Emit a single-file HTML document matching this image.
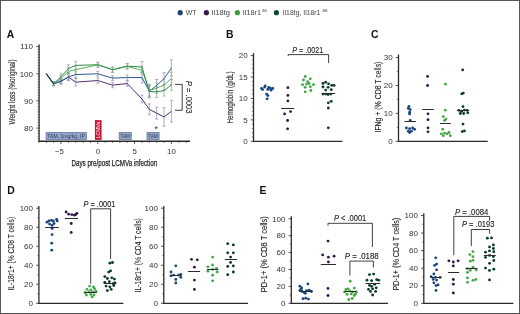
<!DOCTYPE html>
<html><head><meta charset="utf-8"><style>
html,body{margin:0;padding:0;background:#fff;}
body{width:520px;height:314px;overflow:hidden;}
svg{display:block;font-family:"Liberation Sans", sans-serif;will-change:transform;}
</style></head><body>
<svg width="520" height="314" viewBox="0 0 520 314">
<rect x="0" y="0" width="520" height="314" fill="#fff"/>
<circle cx="180.2" cy="12.7" r="2.6" fill="#1a3f6e"/>
<circle cx="206.4" cy="12.7" r="2.6" fill="#3a1a4c"/>
<circle cx="237.4" cy="12.7" r="2.6" fill="#3a9a3a"/>
<circle cx="276.4" cy="12.7" r="2.6" fill="#0d4a30"/>
<text x="185.80" y="15.40" font-size="7.4" text-anchor="start" fill="#444" textLength="10.70" lengthAdjust="spacingAndGlyphs" >WT</text>
<text x="211.60" y="15.40" font-size="7.4" text-anchor="start" fill="#444" textLength="18.30" lengthAdjust="spacingAndGlyphs" >Il18tg</text>
<text x="242.80" y="15.40" font-size="7.4" text-anchor="start" fill="#444" textLength="18.20" lengthAdjust="spacingAndGlyphs" >Il18r1</text>
<text x="262.30" y="11.90" font-size="4.4" text-anchor="start" fill="#444" textLength="4.60" lengthAdjust="spacingAndGlyphs" >ΔB</text>
<text x="282.70" y="15.40" font-size="7.4" text-anchor="start" fill="#444" textLength="37.70" lengthAdjust="spacingAndGlyphs" >Il18tg, Il18r1</text>
<text x="322.40" y="11.90" font-size="4.4" text-anchor="start" fill="#444" textLength="5.00" lengthAdjust="spacingAndGlyphs" >ΔB</text>
<text x="6.70" y="38.10" font-size="10.4" text-anchor="start" fill="#111" font-weight="bold" >A</text>
<text x="225.90" y="38.10" font-size="10.4" text-anchor="start" fill="#111" font-weight="bold" >B</text>
<text x="371.00" y="38.10" font-size="10.4" text-anchor="start" fill="#111" font-weight="bold" >C</text>
<text x="7.20" y="194.40" font-size="10.4" text-anchor="start" fill="#111" font-weight="bold" >D</text>
<text x="259.60" y="194.40" font-size="10.4" text-anchor="start" fill="#111" font-weight="bold" >E</text>
<line x1="39.10" y1="44.50" x2="39.10" y2="141.90" stroke="#2b2b2b" stroke-width="1.3"/>
<line x1="38.50" y1="141.25" x2="190.00" y2="141.25" stroke="#2b2b2b" stroke-width="1.3"/>
<line x1="37.60" y1="138.96" x2="39.10" y2="138.96" stroke="#2b2b2b" stroke-width="0.6"/>
<line x1="37.60" y1="136.24" x2="39.10" y2="136.24" stroke="#2b2b2b" stroke-width="0.6"/>
<line x1="37.60" y1="133.52" x2="39.10" y2="133.52" stroke="#2b2b2b" stroke-width="0.6"/>
<line x1="37.60" y1="130.81" x2="39.10" y2="130.81" stroke="#2b2b2b" stroke-width="0.6"/>
<line x1="36.30" y1="128.09" x2="39.10" y2="128.09" stroke="#2b2b2b" stroke-width="0.8"/>
<line x1="37.60" y1="125.37" x2="39.10" y2="125.37" stroke="#2b2b2b" stroke-width="0.6"/>
<line x1="37.60" y1="122.66" x2="39.10" y2="122.66" stroke="#2b2b2b" stroke-width="0.6"/>
<line x1="37.60" y1="119.94" x2="39.10" y2="119.94" stroke="#2b2b2b" stroke-width="0.6"/>
<line x1="37.60" y1="117.22" x2="39.10" y2="117.22" stroke="#2b2b2b" stroke-width="0.6"/>
<line x1="37.60" y1="114.50" x2="39.10" y2="114.50" stroke="#2b2b2b" stroke-width="0.6"/>
<line x1="37.60" y1="111.79" x2="39.10" y2="111.79" stroke="#2b2b2b" stroke-width="0.6"/>
<line x1="37.60" y1="109.07" x2="39.10" y2="109.07" stroke="#2b2b2b" stroke-width="0.6"/>
<line x1="37.60" y1="106.35" x2="39.10" y2="106.35" stroke="#2b2b2b" stroke-width="0.6"/>
<line x1="37.60" y1="103.64" x2="39.10" y2="103.64" stroke="#2b2b2b" stroke-width="0.6"/>
<line x1="36.30" y1="100.92" x2="39.10" y2="100.92" stroke="#2b2b2b" stroke-width="0.8"/>
<line x1="37.60" y1="98.20" x2="39.10" y2="98.20" stroke="#2b2b2b" stroke-width="0.6"/>
<line x1="37.60" y1="95.49" x2="39.10" y2="95.49" stroke="#2b2b2b" stroke-width="0.6"/>
<line x1="37.60" y1="92.77" x2="39.10" y2="92.77" stroke="#2b2b2b" stroke-width="0.6"/>
<line x1="37.60" y1="90.05" x2="39.10" y2="90.05" stroke="#2b2b2b" stroke-width="0.6"/>
<line x1="37.60" y1="87.34" x2="39.10" y2="87.34" stroke="#2b2b2b" stroke-width="0.6"/>
<line x1="37.60" y1="84.62" x2="39.10" y2="84.62" stroke="#2b2b2b" stroke-width="0.6"/>
<line x1="37.60" y1="81.90" x2="39.10" y2="81.90" stroke="#2b2b2b" stroke-width="0.6"/>
<line x1="37.60" y1="79.18" x2="39.10" y2="79.18" stroke="#2b2b2b" stroke-width="0.6"/>
<line x1="37.60" y1="76.47" x2="39.10" y2="76.47" stroke="#2b2b2b" stroke-width="0.6"/>
<line x1="36.30" y1="73.75" x2="39.10" y2="73.75" stroke="#2b2b2b" stroke-width="0.8"/>
<line x1="37.60" y1="71.03" x2="39.10" y2="71.03" stroke="#2b2b2b" stroke-width="0.6"/>
<line x1="37.60" y1="68.32" x2="39.10" y2="68.32" stroke="#2b2b2b" stroke-width="0.6"/>
<line x1="37.60" y1="65.60" x2="39.10" y2="65.60" stroke="#2b2b2b" stroke-width="0.6"/>
<line x1="37.60" y1="62.88" x2="39.10" y2="62.88" stroke="#2b2b2b" stroke-width="0.6"/>
<line x1="37.60" y1="60.16" x2="39.10" y2="60.16" stroke="#2b2b2b" stroke-width="0.6"/>
<line x1="37.60" y1="57.45" x2="39.10" y2="57.45" stroke="#2b2b2b" stroke-width="0.6"/>
<line x1="37.60" y1="54.73" x2="39.10" y2="54.73" stroke="#2b2b2b" stroke-width="0.6"/>
<line x1="37.60" y1="52.01" x2="39.10" y2="52.01" stroke="#2b2b2b" stroke-width="0.6"/>
<line x1="37.60" y1="49.30" x2="39.10" y2="49.30" stroke="#2b2b2b" stroke-width="0.6"/>
<line x1="36.30" y1="46.58" x2="39.10" y2="46.58" stroke="#2b2b2b" stroke-width="0.8"/>
<text x="33.00" y="49.33" font-size="8.0" text-anchor="end" fill="#333" >110</text>
<text x="33.00" y="76.50" font-size="8.0" text-anchor="end" fill="#333" >100</text>
<text x="33.00" y="103.67" font-size="8.0" text-anchor="end" fill="#333" >90</text>
<text x="33.00" y="130.84" font-size="8.0" text-anchor="end" fill="#333" >80</text>
<line x1="38.92" y1="141.20" x2="38.92" y2="143.00" stroke="#2b2b2b" stroke-width="0.6"/>
<line x1="46.28" y1="141.20" x2="46.28" y2="143.00" stroke="#2b2b2b" stroke-width="0.6"/>
<line x1="53.64" y1="141.20" x2="53.64" y2="143.00" stroke="#2b2b2b" stroke-width="0.6"/>
<line x1="61.00" y1="141.20" x2="61.00" y2="144.00" stroke="#2b2b2b" stroke-width="0.8"/>
<line x1="68.36" y1="141.20" x2="68.36" y2="143.00" stroke="#2b2b2b" stroke-width="0.6"/>
<line x1="75.72" y1="141.20" x2="75.72" y2="143.00" stroke="#2b2b2b" stroke-width="0.6"/>
<line x1="83.08" y1="141.20" x2="83.08" y2="143.00" stroke="#2b2b2b" stroke-width="0.6"/>
<line x1="90.44" y1="141.20" x2="90.44" y2="143.00" stroke="#2b2b2b" stroke-width="0.6"/>
<line x1="97.80" y1="141.20" x2="97.80" y2="144.00" stroke="#2b2b2b" stroke-width="0.8"/>
<line x1="105.16" y1="141.20" x2="105.16" y2="143.00" stroke="#2b2b2b" stroke-width="0.6"/>
<line x1="112.52" y1="141.20" x2="112.52" y2="143.00" stroke="#2b2b2b" stroke-width="0.6"/>
<line x1="119.88" y1="141.20" x2="119.88" y2="143.00" stroke="#2b2b2b" stroke-width="0.6"/>
<line x1="127.24" y1="141.20" x2="127.24" y2="143.00" stroke="#2b2b2b" stroke-width="0.6"/>
<line x1="134.60" y1="141.20" x2="134.60" y2="144.00" stroke="#2b2b2b" stroke-width="0.8"/>
<line x1="141.96" y1="141.20" x2="141.96" y2="143.00" stroke="#2b2b2b" stroke-width="0.6"/>
<line x1="149.32" y1="141.20" x2="149.32" y2="143.00" stroke="#2b2b2b" stroke-width="0.6"/>
<line x1="156.68" y1="141.20" x2="156.68" y2="143.00" stroke="#2b2b2b" stroke-width="0.6"/>
<line x1="164.04" y1="141.20" x2="164.04" y2="143.00" stroke="#2b2b2b" stroke-width="0.6"/>
<line x1="171.40" y1="141.20" x2="171.40" y2="144.00" stroke="#2b2b2b" stroke-width="0.8"/>
<line x1="178.76" y1="141.20" x2="178.76" y2="143.00" stroke="#2b2b2b" stroke-width="0.6"/>
<line x1="186.12" y1="141.20" x2="186.12" y2="143.00" stroke="#2b2b2b" stroke-width="0.6"/>
<text x="59.40" y="153.80" font-size="7.8" text-anchor="middle" fill="#333" >−5</text>
<text x="97.80" y="153.80" font-size="7.8" text-anchor="middle" fill="#333" >0</text>
<text x="134.60" y="153.80" font-size="7.8" text-anchor="middle" fill="#333" >5</text>
<text x="171.40" y="153.80" font-size="7.8" text-anchor="middle" fill="#333" >10</text>
<text x="71.40" y="166.20" font-size="9.6" text-anchor="start" fill="#222" textLength="85.80" lengthAdjust="spacingAndGlyphs" stroke="#222" stroke-width="0.25">Days pre/post LCMVa infection</text>
<text x="15.00" y="124.40" font-size="8.8" text-anchor="start" fill="#222" textLength="65.00" lengthAdjust="spacingAndGlyphs" transform="rotate(-90 15.00 124.40)" stroke="#222" stroke-width="0.1">Weight loss (%original)</text>
<g stroke="#8c809c" stroke-width="0.65"><line x1="53.64" y1="81.68" x2="53.64" y2="85.92"/><line x1="52.14" y1="81.68" x2="55.14" y2="81.68"/><line x1="52.14" y1="85.92" x2="55.14" y2="85.92"/></g>
<g stroke="#8c809c" stroke-width="0.65"><line x1="61.00" y1="78.71" x2="61.00" y2="84.01"/><line x1="59.50" y1="78.71" x2="62.50" y2="78.71"/><line x1="59.50" y1="84.01" x2="62.50" y2="84.01"/></g>
<g stroke="#8c809c" stroke-width="0.65"><line x1="68.36" y1="73.48" x2="68.36" y2="80.54"/><line x1="66.86" y1="73.48" x2="69.86" y2="73.48"/><line x1="66.86" y1="80.54" x2="69.86" y2="80.54"/></g>
<g stroke="#8c809c" stroke-width="0.65"><line x1="75.72" y1="78.29" x2="75.72" y2="86.06"/><line x1="74.22" y1="78.29" x2="77.22" y2="78.29"/><line x1="74.22" y1="86.06" x2="77.22" y2="86.06"/></g>
<g stroke="#8c809c" stroke-width="0.65"><line x1="97.80" y1="77.89" x2="97.80" y2="83.19"/><line x1="96.30" y1="77.89" x2="99.30" y2="77.89"/><line x1="96.30" y1="83.19" x2="99.30" y2="83.19"/></g>
<g stroke="#8c809c" stroke-width="0.65"><line x1="112.52" y1="82.51" x2="112.52" y2="87.81"/><line x1="111.02" y1="82.51" x2="114.02" y2="82.51"/><line x1="111.02" y1="87.81" x2="114.02" y2="87.81"/></g>
<g stroke="#8c809c" stroke-width="0.65"><line x1="127.24" y1="80.88" x2="127.24" y2="86.18"/><line x1="125.74" y1="80.88" x2="128.74" y2="80.88"/><line x1="125.74" y1="86.18" x2="128.74" y2="86.18"/></g>
<g stroke="#8c809c" stroke-width="0.65"><line x1="141.96" y1="95.21" x2="141.96" y2="102.82"/><line x1="140.46" y1="95.21" x2="143.46" y2="95.21"/><line x1="140.46" y1="102.82" x2="143.46" y2="102.82"/></g>
<g stroke="#8c809c" stroke-width="0.65"><line x1="149.32" y1="103.91" x2="149.32" y2="114.78"/><line x1="147.82" y1="103.91" x2="150.82" y2="103.91"/><line x1="147.82" y1="114.78" x2="150.82" y2="114.78"/></g>
<g stroke="#8c809c" stroke-width="0.65"><line x1="156.68" y1="107.17" x2="156.68" y2="119.12"/><line x1="155.18" y1="107.17" x2="158.18" y2="107.17"/><line x1="155.18" y1="119.12" x2="158.18" y2="119.12"/></g>
<g stroke="#8c809c" stroke-width="0.65"><line x1="164.04" y1="107.71" x2="164.04" y2="126.19"/><line x1="162.54" y1="107.71" x2="165.54" y2="107.71"/><line x1="162.54" y1="126.19" x2="165.54" y2="126.19"/></g>
<g stroke="#8c809c" stroke-width="0.65"><line x1="171.40" y1="100.38" x2="171.40" y2="122.11"/><line x1="169.90" y1="100.38" x2="172.90" y2="100.38"/><line x1="169.90" y1="122.11" x2="172.90" y2="122.11"/></g>
<g stroke="#7d8aa4" stroke-width="0.65"><line x1="53.64" y1="82.39" x2="53.64" y2="85.22"/><line x1="52.14" y1="82.39" x2="55.14" y2="82.39"/><line x1="52.14" y1="85.22" x2="55.14" y2="85.22"/></g>
<g stroke="#7d8aa4" stroke-width="0.65"><line x1="61.00" y1="78.44" x2="61.00" y2="83.73"/><line x1="59.50" y1="78.44" x2="62.50" y2="78.44"/><line x1="59.50" y1="83.73" x2="62.50" y2="83.73"/></g>
<g stroke="#7d8aa4" stroke-width="0.65"><line x1="68.36" y1="74.18" x2="68.36" y2="79.84"/><line x1="66.86" y1="74.18" x2="69.86" y2="74.18"/><line x1="66.86" y1="79.84" x2="69.86" y2="79.84"/></g>
<g stroke="#7d8aa4" stroke-width="0.65"><line x1="75.72" y1="71.03" x2="75.72" y2="78.10"/><line x1="74.22" y1="71.03" x2="77.22" y2="71.03"/><line x1="74.22" y1="78.10" x2="77.22" y2="78.10"/></g>
<g stroke="#7d8aa4" stroke-width="0.65"><line x1="97.80" y1="71.45" x2="97.80" y2="76.05"/><line x1="96.30" y1="71.45" x2="99.30" y2="71.45"/><line x1="96.30" y1="76.05" x2="99.30" y2="76.05"/></g>
<g stroke="#7d8aa4" stroke-width="0.65"><line x1="112.52" y1="75.80" x2="112.52" y2="80.39"/><line x1="111.02" y1="75.80" x2="114.02" y2="75.80"/><line x1="111.02" y1="80.39" x2="114.02" y2="80.39"/></g>
<g stroke="#7d8aa4" stroke-width="0.65"><line x1="127.24" y1="74.90" x2="127.24" y2="80.20"/><line x1="125.74" y1="74.90" x2="128.74" y2="74.90"/><line x1="125.74" y1="80.20" x2="128.74" y2="80.20"/></g>
<g stroke="#7d8aa4" stroke-width="0.65"><line x1="141.96" y1="72.12" x2="141.96" y2="82.99"/><line x1="140.46" y1="72.12" x2="143.46" y2="72.12"/><line x1="140.46" y1="82.99" x2="143.46" y2="82.99"/></g>
<g stroke="#7d8aa4" stroke-width="0.65"><line x1="149.32" y1="84.35" x2="149.32" y2="97.93"/><line x1="147.82" y1="84.35" x2="150.82" y2="84.35"/><line x1="147.82" y1="97.93" x2="150.82" y2="97.93"/></g>
<g stroke="#7d8aa4" stroke-width="0.65"><line x1="156.68" y1="79.46" x2="156.68" y2="91.41"/><line x1="155.18" y1="79.46" x2="158.18" y2="79.46"/><line x1="155.18" y1="91.41" x2="158.18" y2="91.41"/></g>
<g stroke="#7d8aa4" stroke-width="0.65"><line x1="164.04" y1="72.66" x2="164.04" y2="84.62"/><line x1="162.54" y1="72.66" x2="165.54" y2="72.66"/><line x1="162.54" y1="84.62" x2="165.54" y2="84.62"/></g>
<g stroke="#7d8aa4" stroke-width="0.65"><line x1="171.40" y1="59.89" x2="171.40" y2="76.20"/><line x1="169.90" y1="59.89" x2="172.90" y2="59.89"/><line x1="169.90" y1="76.20" x2="172.90" y2="76.20"/></g>
<g stroke="#8fb08f" stroke-width="0.65"><line x1="53.64" y1="82.04" x2="53.64" y2="85.57"/><line x1="52.14" y1="82.04" x2="55.14" y2="82.04"/><line x1="52.14" y1="85.57" x2="55.14" y2="85.57"/></g>
<g stroke="#8fb08f" stroke-width="0.65"><line x1="61.00" y1="75.46" x2="61.00" y2="81.82"/><line x1="59.50" y1="75.46" x2="62.50" y2="75.46"/><line x1="59.50" y1="81.82" x2="62.50" y2="81.82"/></g>
<g stroke="#8fb08f" stroke-width="0.65"><line x1="68.36" y1="67.77" x2="68.36" y2="74.84"/><line x1="66.86" y1="67.77" x2="69.86" y2="67.77"/><line x1="66.86" y1="74.84" x2="69.86" y2="74.84"/></g>
<g stroke="#8fb08f" stroke-width="0.65"><line x1="75.72" y1="66.14" x2="75.72" y2="73.21"/><line x1="74.22" y1="66.14" x2="77.22" y2="66.14"/><line x1="74.22" y1="73.21" x2="77.22" y2="73.21"/></g>
<g stroke="#8fb08f" stroke-width="0.65"><line x1="97.80" y1="62.13" x2="97.80" y2="67.43"/><line x1="96.30" y1="62.13" x2="99.30" y2="62.13"/><line x1="96.30" y1="67.43" x2="99.30" y2="67.43"/></g>
<g stroke="#8fb08f" stroke-width="0.65"><line x1="112.52" y1="67.03" x2="112.52" y2="72.32"/><line x1="111.02" y1="67.03" x2="114.02" y2="67.03"/><line x1="111.02" y1="72.32" x2="114.02" y2="72.32"/></g>
<g stroke="#8fb08f" stroke-width="0.65"><line x1="127.24" y1="63.77" x2="127.24" y2="69.06"/><line x1="125.74" y1="63.77" x2="128.74" y2="63.77"/><line x1="125.74" y1="69.06" x2="128.74" y2="69.06"/></g>
<g stroke="#8fb08f" stroke-width="0.65"><line x1="141.96" y1="66.14" x2="141.96" y2="74.29"/><line x1="140.46" y1="66.14" x2="143.46" y2="66.14"/><line x1="140.46" y1="74.29" x2="143.46" y2="74.29"/></g>
<g stroke="#8fb08f" stroke-width="0.65"><line x1="149.32" y1="85.16" x2="149.32" y2="96.03"/><line x1="147.82" y1="85.16" x2="150.82" y2="85.16"/><line x1="147.82" y1="96.03" x2="150.82" y2="96.03"/></g>
<g stroke="#8fb08f" stroke-width="0.65"><line x1="156.68" y1="82.72" x2="156.68" y2="93.58"/><line x1="155.18" y1="82.72" x2="158.18" y2="82.72"/><line x1="155.18" y1="93.58" x2="158.18" y2="93.58"/></g>
<g stroke="#8fb08f" stroke-width="0.65"><line x1="164.04" y1="79.46" x2="164.04" y2="90.32"/><line x1="162.54" y1="79.46" x2="165.54" y2="79.46"/><line x1="162.54" y1="90.32" x2="165.54" y2="90.32"/></g>
<g stroke="#8fb08f" stroke-width="0.65"><line x1="171.40" y1="72.66" x2="171.40" y2="84.62"/><line x1="169.90" y1="72.66" x2="172.90" y2="72.66"/><line x1="169.90" y1="84.62" x2="172.90" y2="84.62"/></g>
<g stroke="#7f9a8a" stroke-width="0.65"><line x1="53.64" y1="82.04" x2="53.64" y2="85.57"/><line x1="52.14" y1="82.04" x2="55.14" y2="82.04"/><line x1="52.14" y1="85.57" x2="55.14" y2="85.57"/></g>
<g stroke="#7f9a8a" stroke-width="0.65"><line x1="61.00" y1="73.21" x2="61.00" y2="80.27"/><line x1="59.50" y1="73.21" x2="62.50" y2="73.21"/><line x1="59.50" y1="80.27" x2="62.50" y2="80.27"/></g>
<g stroke="#7f9a8a" stroke-width="0.65"><line x1="68.36" y1="64.70" x2="68.36" y2="72.47"/><line x1="66.86" y1="64.70" x2="69.86" y2="64.70"/><line x1="66.86" y1="72.47" x2="69.86" y2="72.47"/></g>
<g stroke="#7f9a8a" stroke-width="0.65"><line x1="75.72" y1="61.27" x2="75.72" y2="69.39"/><line x1="74.22" y1="61.27" x2="77.22" y2="61.27"/><line x1="74.22" y1="69.39" x2="77.22" y2="69.39"/></g>
<g stroke="#7f9a8a" stroke-width="0.65"><line x1="97.80" y1="62.66" x2="97.80" y2="66.90"/><line x1="96.30" y1="62.66" x2="99.30" y2="62.66"/><line x1="96.30" y1="66.90" x2="99.30" y2="66.90"/></g>
<g stroke="#7f9a8a" stroke-width="0.65"><line x1="112.52" y1="67.03" x2="112.52" y2="72.32"/><line x1="111.02" y1="67.03" x2="114.02" y2="67.03"/><line x1="111.02" y1="72.32" x2="114.02" y2="72.32"/></g>
<g stroke="#7f9a8a" stroke-width="0.65"><line x1="127.24" y1="63.32" x2="127.24" y2="68.97"/><line x1="125.74" y1="63.32" x2="128.74" y2="63.32"/><line x1="125.74" y1="68.97" x2="128.74" y2="68.97"/></g>
<g stroke="#7f9a8a" stroke-width="0.65"><line x1="141.96" y1="61.52" x2="141.96" y2="72.39"/><line x1="140.46" y1="61.52" x2="143.46" y2="61.52"/><line x1="140.46" y1="72.39" x2="143.46" y2="72.39"/></g>
<g stroke="#7f9a8a" stroke-width="0.65"><line x1="149.32" y1="85.98" x2="149.32" y2="96.84"/><line x1="147.82" y1="85.98" x2="150.82" y2="85.98"/><line x1="147.82" y1="96.84" x2="150.82" y2="96.84"/></g>
<g stroke="#7f9a8a" stroke-width="0.65"><line x1="156.68" y1="86.52" x2="156.68" y2="97.39"/><line x1="155.18" y1="86.52" x2="158.18" y2="86.52"/><line x1="155.18" y1="97.39" x2="158.18" y2="97.39"/></g>
<g stroke="#7f9a8a" stroke-width="0.65"><line x1="164.04" y1="85.16" x2="164.04" y2="96.03"/><line x1="162.54" y1="85.16" x2="165.54" y2="85.16"/><line x1="162.54" y1="96.03" x2="165.54" y2="96.03"/></g>
<g stroke="#7f9a8a" stroke-width="0.65"><line x1="171.40" y1="79.46" x2="171.40" y2="90.32"/><line x1="169.90" y1="79.46" x2="172.90" y2="79.46"/><line x1="169.90" y1="90.32" x2="172.90" y2="90.32"/></g>
<polyline points="46.28,73.75 53.64,83.80 61.00,81.36 68.36,77.01 75.72,82.17 97.80,80.54 112.52,85.16 127.24,83.53 141.96,99.02 149.32,109.34 156.68,113.15 164.04,116.95 171.40,111.24" fill="none" stroke="#4e3270" stroke-width="1.0" stroke-linejoin="round"/>
<polyline points="46.28,73.75 53.64,83.80 61.00,81.09 68.36,77.01 75.72,74.57 97.80,73.75 112.52,78.10 127.24,77.55 141.96,77.55 149.32,91.14 156.68,85.43 164.04,78.64 171.40,68.04" fill="none" stroke="#2f5a96" stroke-width="1.0" stroke-linejoin="round"/>
<polyline points="46.28,73.75 53.64,83.80 61.00,78.64 68.36,71.30 75.72,69.67 97.80,64.78 112.52,69.67 127.24,66.41 141.96,70.22 149.32,90.60 156.68,88.15 164.04,84.89 171.40,78.64" fill="none" stroke="#5cb45c" stroke-width="1.0" stroke-linejoin="round"/>
<polyline points="46.28,73.75 53.64,83.80 61.00,76.74 68.36,68.59 75.72,65.33 97.80,64.78 112.52,69.67 127.24,66.14 141.96,66.96 149.32,91.41 156.68,91.95 164.04,90.60 171.40,84.89" fill="none" stroke="#2f8a52" stroke-width="1.0" stroke-linejoin="round"/>
<polyline points="46.28,73.75 53.64,83.80" fill="none" stroke="#1d3550" stroke-width="1.1"/>
<rect x="46.10" y="132.6" width="40.30" height="6.8" fill="#94a6c6" stroke="#5f749c" stroke-width="0.8"/>
<text x="47.30" y="138.10" font-size="5.8" text-anchor="start" fill="#2c3a5a" textLength="37.50" lengthAdjust="spacingAndGlyphs" >TAM, 1mg/kg, IP</text>
<rect x="119.20" y="132.6" width="12.10" height="6.8" fill="#94a6c6" stroke="#5f749c" stroke-width="0.8"/>
<text x="120.40" y="138.10" font-size="5.8" text-anchor="start" fill="#2c3a5a" textLength="9.50" lengthAdjust="spacingAndGlyphs" >TAM</text>
<rect x="147.00" y="132.6" width="12.10" height="6.8" fill="#94a6c6" stroke="#5f749c" stroke-width="0.8"/>
<text x="148.20" y="138.10" font-size="5.8" text-anchor="start" fill="#2c3a5a" textLength="9.50" lengthAdjust="spacingAndGlyphs" >TAM</text>
<rect x="94.9" y="120.1" width="6.7" height="19.8" fill="#c8163a"/>
<text x="100.30" y="138.50" font-size="5.2" text-anchor="start" fill="#fff" textLength="17.00" lengthAdjust="spacingAndGlyphs" transform="rotate(-90 100.30 138.50)" >LCMVa</text>
<text x="156.20" y="131.60" font-size="9" text-anchor="middle" fill="#333" >*</text>
<path d="M175.0,84.4 H182.2 V110.3 H175.0" fill="none" stroke="#2b2b2b" stroke-width="0.9"/>
<text x="185.80" y="80.80" font-size="8.2" text-anchor="start" fill="#222" textLength="32.80" lengthAdjust="spacingAndGlyphs" transform="rotate(90 185.80 80.80)" stroke="#222" stroke-width="0.12"><tspan font-style="italic">P</tspan> = .0003</text>
<line x1="253.50" y1="53.10" x2="253.50" y2="141.90" stroke="#2b2b2b" stroke-width="1.3"/>
<line x1="252.90" y1="141.30" x2="342.40" y2="141.30" stroke="#2b2b2b" stroke-width="1.3"/>
<line x1="250.70" y1="141.30" x2="253.50" y2="141.30" stroke="#2b2b2b" stroke-width="0.8"/>
<text x="247.60" y="144.05" font-size="8.0" text-anchor="end" fill="#333" >0</text>
<line x1="250.70" y1="119.88" x2="253.50" y2="119.88" stroke="#2b2b2b" stroke-width="0.8"/>
<text x="247.60" y="122.63" font-size="8.0" text-anchor="end" fill="#333" >5</text>
<line x1="250.70" y1="98.45" x2="253.50" y2="98.45" stroke="#2b2b2b" stroke-width="0.8"/>
<text x="247.60" y="101.20" font-size="8.0" text-anchor="end" fill="#333" >10</text>
<line x1="250.70" y1="77.03" x2="253.50" y2="77.03" stroke="#2b2b2b" stroke-width="0.8"/>
<text x="247.60" y="79.78" font-size="8.0" text-anchor="end" fill="#333" >15</text>
<line x1="250.70" y1="55.60" x2="253.50" y2="55.60" stroke="#2b2b2b" stroke-width="0.8"/>
<text x="247.60" y="58.35" font-size="8.0" text-anchor="end" fill="#333" >20</text>
<line x1="251.90" y1="137.02" x2="253.50" y2="137.02" stroke="#2b2b2b" stroke-width="0.6"/>
<line x1="251.90" y1="132.73" x2="253.50" y2="132.73" stroke="#2b2b2b" stroke-width="0.6"/>
<line x1="251.90" y1="128.45" x2="253.50" y2="128.45" stroke="#2b2b2b" stroke-width="0.6"/>
<line x1="251.90" y1="124.16" x2="253.50" y2="124.16" stroke="#2b2b2b" stroke-width="0.6"/>
<line x1="251.90" y1="115.59" x2="253.50" y2="115.59" stroke="#2b2b2b" stroke-width="0.6"/>
<line x1="251.90" y1="111.31" x2="253.50" y2="111.31" stroke="#2b2b2b" stroke-width="0.6"/>
<line x1="251.90" y1="107.02" x2="253.50" y2="107.02" stroke="#2b2b2b" stroke-width="0.6"/>
<line x1="251.90" y1="102.74" x2="253.50" y2="102.74" stroke="#2b2b2b" stroke-width="0.6"/>
<line x1="251.90" y1="94.17" x2="253.50" y2="94.17" stroke="#2b2b2b" stroke-width="0.6"/>
<line x1="251.90" y1="89.88" x2="253.50" y2="89.88" stroke="#2b2b2b" stroke-width="0.6"/>
<line x1="251.90" y1="85.60" x2="253.50" y2="85.60" stroke="#2b2b2b" stroke-width="0.6"/>
<line x1="251.90" y1="81.31" x2="253.50" y2="81.31" stroke="#2b2b2b" stroke-width="0.6"/>
<line x1="251.90" y1="72.74" x2="253.50" y2="72.74" stroke="#2b2b2b" stroke-width="0.6"/>
<line x1="251.90" y1="68.46" x2="253.50" y2="68.46" stroke="#2b2b2b" stroke-width="0.6"/>
<line x1="251.90" y1="64.17" x2="253.50" y2="64.17" stroke="#2b2b2b" stroke-width="0.6"/>
<line x1="251.90" y1="59.89" x2="253.50" y2="59.89" stroke="#2b2b2b" stroke-width="0.6"/>
<text x="233.40" y="123.60" font-size="8.8" text-anchor="start" fill="#222" textLength="52.30" lengthAdjust="spacingAndGlyphs" transform="rotate(-90 233.40 123.60)" stroke="#222" stroke-width="0.1">Hemoglobin (g/dL)</text>
<circle cx="262.60" cy="89.60" r="1.42" fill="#16457c"/>
<circle cx="264.60" cy="87.10" r="1.42" fill="#16457c"/>
<circle cx="267.70" cy="89.40" r="1.42" fill="#16457c"/>
<circle cx="270.30" cy="88.10" r="1.42" fill="#16457c"/>
<circle cx="272.80" cy="88.40" r="1.42" fill="#16457c"/>
<circle cx="265.20" cy="85.80" r="1.42" fill="#16457c"/>
<circle cx="268.70" cy="87.50" r="1.42" fill="#16457c"/>
<circle cx="261.50" cy="88.30" r="1.42" fill="#16457c"/>
<circle cx="266.50" cy="94.10" r="1.42" fill="#16457c"/>
<circle cx="267.90" cy="95.60" r="1.42" fill="#16457c"/>
<circle cx="267.10" cy="98.80" r="1.42" fill="#16457c"/>
<circle cx="271.00" cy="90.20" r="1.42" fill="#16457c"/>
<circle cx="287.90" cy="87.70" r="1.42" fill="#33164a"/>
<circle cx="287.90" cy="95.40" r="1.42" fill="#33164a"/>
<circle cx="287.90" cy="100.90" r="1.42" fill="#33164a"/>
<circle cx="290.60" cy="111.60" r="1.42" fill="#33164a"/>
<circle cx="284.60" cy="113.90" r="1.42" fill="#33164a"/>
<circle cx="287.60" cy="120.50" r="1.42" fill="#33164a"/>
<circle cx="287.60" cy="128.80" r="1.42" fill="#33164a"/>
<line x1="281.20" y1="108.50" x2="294.20" y2="108.50" stroke="#2b2b2b" stroke-width="1.0"/>
<circle cx="305.20" cy="76.50" r="1.42" fill="#42a843"/>
<circle cx="310.30" cy="78.80" r="1.42" fill="#42a843"/>
<circle cx="307.70" cy="81.60" r="1.42" fill="#42a843"/>
<circle cx="302.60" cy="84.70" r="1.42" fill="#42a843"/>
<circle cx="306.50" cy="84.10" r="1.42" fill="#42a843"/>
<circle cx="313.50" cy="84.70" r="1.42" fill="#42a843"/>
<circle cx="305.20" cy="87.30" r="1.42" fill="#42a843"/>
<circle cx="310.30" cy="86.70" r="1.42" fill="#42a843"/>
<circle cx="310.90" cy="90.50" r="1.42" fill="#42a843"/>
<circle cx="305.20" cy="91.80" r="1.42" fill="#42a843"/>
<circle cx="309.00" cy="83.50" r="1.42" fill="#42a843"/>
<circle cx="303.50" cy="80.00" r="1.42" fill="#42a843"/>
<circle cx="323.00" cy="83.40" r="1.42" fill="#093a26"/>
<circle cx="325.70" cy="82.20" r="1.42" fill="#093a26"/>
<circle cx="328.50" cy="83.80" r="1.42" fill="#093a26"/>
<circle cx="331.70" cy="85.40" r="1.42" fill="#093a26"/>
<circle cx="334.10" cy="85.40" r="1.42" fill="#093a26"/>
<circle cx="323.00" cy="87.00" r="1.42" fill="#093a26"/>
<circle cx="328.10" cy="87.30" r="1.42" fill="#093a26"/>
<circle cx="325.70" cy="90.10" r="1.42" fill="#093a26"/>
<circle cx="331.30" cy="89.70" r="1.42" fill="#093a26"/>
<circle cx="323.00" cy="94.10" r="1.42" fill="#093a26"/>
<circle cx="325.70" cy="94.10" r="1.42" fill="#093a26"/>
<circle cx="328.10" cy="94.50" r="1.42" fill="#093a26"/>
<circle cx="330.90" cy="94.10" r="1.42" fill="#093a26"/>
<circle cx="331.20" cy="101.30" r="1.42" fill="#093a26"/>
<circle cx="328.30" cy="102.80" r="1.42" fill="#093a26"/>
<circle cx="328.30" cy="108.00" r="1.42" fill="#093a26"/>
<circle cx="328.30" cy="127.80" r="1.42" fill="#093a26"/>
<line x1="321.75" y1="93.50" x2="335.25" y2="93.50" stroke="#2b2b2b" stroke-width="1.0"/>
<path d="M288.20,56.00 V54.60 H328.60 V63.00" fill="none" stroke="#2b2b2b" stroke-width="0.9"/>
<text x="292.30" y="52.90" font-size="8.2" text-anchor="start" fill="#222" textLength="31.10" lengthAdjust="spacingAndGlyphs" stroke="#222" stroke-width="0.12"><tspan font-style="italic">P</tspan> = .0021</text>
<line x1="398.50" y1="54.50" x2="398.50" y2="141.90" stroke="#2b2b2b" stroke-width="1.3"/>
<line x1="397.90" y1="141.30" x2="487.70" y2="141.30" stroke="#2b2b2b" stroke-width="1.3"/>
<line x1="395.70" y1="141.30" x2="398.50" y2="141.30" stroke="#2b2b2b" stroke-width="0.8"/>
<text x="392.60" y="144.05" font-size="8.0" text-anchor="end" fill="#333" >0</text>
<line x1="395.70" y1="113.37" x2="398.50" y2="113.37" stroke="#2b2b2b" stroke-width="0.8"/>
<text x="392.60" y="116.12" font-size="8.0" text-anchor="end" fill="#333" >10</text>
<line x1="395.70" y1="85.44" x2="398.50" y2="85.44" stroke="#2b2b2b" stroke-width="0.8"/>
<text x="392.60" y="88.19" font-size="8.0" text-anchor="end" fill="#333" >20</text>
<line x1="395.70" y1="57.51" x2="398.50" y2="57.51" stroke="#2b2b2b" stroke-width="0.8"/>
<text x="392.60" y="60.26" font-size="8.0" text-anchor="end" fill="#333" >30</text>
<line x1="396.90" y1="127.34" x2="398.50" y2="127.34" stroke="#2b2b2b" stroke-width="0.6"/>
<line x1="396.90" y1="99.41" x2="398.50" y2="99.41" stroke="#2b2b2b" stroke-width="0.6"/>
<line x1="396.90" y1="71.48" x2="398.50" y2="71.48" stroke="#2b2b2b" stroke-width="0.6"/>
<text x="380.70" y="132.50" font-size="8.8" text-anchor="start" fill="#222" textLength="70.90" lengthAdjust="spacingAndGlyphs" transform="rotate(-90 380.70 132.50)" stroke="#222" stroke-width="0.1">IFNg + (% CD8 T cells)</text>
<circle cx="408.90" cy="106.40" r="1.42" fill="#16457c"/>
<circle cx="408.30" cy="108.30" r="1.42" fill="#16457c"/>
<circle cx="410.20" cy="109.60" r="1.42" fill="#16457c"/>
<circle cx="409.60" cy="112.20" r="1.42" fill="#16457c"/>
<circle cx="409.60" cy="114.00" r="1.42" fill="#16457c"/>
<circle cx="410.20" cy="120.40" r="1.42" fill="#16457c"/>
<circle cx="406.40" cy="128.00" r="1.42" fill="#16457c"/>
<circle cx="409.60" cy="128.70" r="1.42" fill="#16457c"/>
<circle cx="412.70" cy="128.00" r="1.42" fill="#16457c"/>
<circle cx="414.60" cy="129.30" r="1.42" fill="#16457c"/>
<circle cx="408.30" cy="131.20" r="1.42" fill="#16457c"/>
<circle cx="411.50" cy="131.20" r="1.42" fill="#16457c"/>
<circle cx="409.60" cy="132.50" r="1.42" fill="#16457c"/>
<line x1="404.50" y1="121.50" x2="415.90" y2="121.50" stroke="#2b2b2b" stroke-width="1.0"/>
<circle cx="427.60" cy="76.40" r="1.42" fill="#33164a"/>
<circle cx="427.60" cy="85.50" r="1.42" fill="#33164a"/>
<circle cx="428.00" cy="113.80" r="1.42" fill="#33164a"/>
<circle cx="428.00" cy="119.70" r="1.42" fill="#33164a"/>
<circle cx="428.00" cy="127.80" r="1.42" fill="#33164a"/>
<circle cx="428.00" cy="131.80" r="1.42" fill="#33164a"/>
<line x1="422.25" y1="109.50" x2="433.75" y2="109.50" stroke="#2b2b2b" stroke-width="1.0"/>
<circle cx="445.50" cy="84.20" r="1.42" fill="#42a843"/>
<circle cx="445.20" cy="110.20" r="1.42" fill="#42a843"/>
<circle cx="443.30" cy="116.60" r="1.42" fill="#42a843"/>
<circle cx="445.90" cy="119.10" r="1.42" fill="#42a843"/>
<circle cx="444.60" cy="120.40" r="1.42" fill="#42a843"/>
<circle cx="442.70" cy="129.30" r="1.42" fill="#42a843"/>
<circle cx="441.40" cy="133.80" r="1.42" fill="#42a843"/>
<circle cx="444.60" cy="133.10" r="1.42" fill="#42a843"/>
<circle cx="447.10" cy="133.80" r="1.42" fill="#42a843"/>
<circle cx="449.00" cy="132.50" r="1.42" fill="#42a843"/>
<circle cx="450.30" cy="135.70" r="1.42" fill="#42a843"/>
<circle cx="443.30" cy="135.70" r="1.42" fill="#42a843"/>
<line x1="439.90" y1="123.50" x2="450.90" y2="123.50" stroke="#2b2b2b" stroke-width="1.0"/>
<circle cx="462.70" cy="69.90" r="1.42" fill="#093a26"/>
<circle cx="461.80" cy="93.80" r="1.42" fill="#093a26"/>
<circle cx="463.30" cy="93.10" r="1.42" fill="#093a26"/>
<circle cx="463.00" cy="106.60" r="1.42" fill="#093a26"/>
<circle cx="458.90" cy="110.30" r="1.42" fill="#093a26"/>
<circle cx="461.60" cy="111.20" r="1.42" fill="#093a26"/>
<circle cx="464.40" cy="110.10" r="1.42" fill="#093a26"/>
<circle cx="467.10" cy="110.30" r="1.42" fill="#093a26"/>
<circle cx="460.30" cy="113.50" r="1.42" fill="#093a26"/>
<circle cx="463.70" cy="113.50" r="1.42" fill="#093a26"/>
<circle cx="467.80" cy="112.80" r="1.42" fill="#093a26"/>
<circle cx="463.00" cy="124.10" r="1.42" fill="#093a26"/>
<circle cx="462.20" cy="131.60" r="1.42" fill="#093a26"/>
<circle cx="464.40" cy="130.90" r="1.42" fill="#093a26"/>
<line x1="456.80" y1="110.50" x2="469.20" y2="110.50" stroke="#2b2b2b" stroke-width="1.0"/>
<line x1="38.90" y1="206.00" x2="38.90" y2="303.90" stroke="#2b2b2b" stroke-width="1.3"/>
<line x1="38.30" y1="303.30" x2="123.40" y2="303.30" stroke="#2b2b2b" stroke-width="1.3"/>
<line x1="36.10" y1="303.30" x2="38.90" y2="303.30" stroke="#2b2b2b" stroke-width="0.8"/>
<text x="33.00" y="306.05" font-size="8.0" text-anchor="end" fill="#333" >0</text>
<line x1="36.10" y1="284.28" x2="38.90" y2="284.28" stroke="#2b2b2b" stroke-width="0.8"/>
<text x="33.00" y="287.03" font-size="8.0" text-anchor="end" fill="#333" >20</text>
<line x1="36.10" y1="265.26" x2="38.90" y2="265.26" stroke="#2b2b2b" stroke-width="0.8"/>
<text x="33.00" y="268.01" font-size="8.0" text-anchor="end" fill="#333" >40</text>
<line x1="36.10" y1="246.24" x2="38.90" y2="246.24" stroke="#2b2b2b" stroke-width="0.8"/>
<text x="33.00" y="248.99" font-size="8.0" text-anchor="end" fill="#333" >60</text>
<line x1="36.10" y1="227.22" x2="38.90" y2="227.22" stroke="#2b2b2b" stroke-width="0.8"/>
<text x="33.00" y="229.97" font-size="8.0" text-anchor="end" fill="#333" >80</text>
<line x1="36.10" y1="208.20" x2="38.90" y2="208.20" stroke="#2b2b2b" stroke-width="0.8"/>
<text x="33.00" y="210.95" font-size="8.0" text-anchor="end" fill="#333" >100</text>
<line x1="37.30" y1="293.79" x2="38.90" y2="293.79" stroke="#2b2b2b" stroke-width="0.6"/>
<line x1="37.30" y1="274.77" x2="38.90" y2="274.77" stroke="#2b2b2b" stroke-width="0.6"/>
<line x1="37.30" y1="255.75" x2="38.90" y2="255.75" stroke="#2b2b2b" stroke-width="0.6"/>
<line x1="37.30" y1="236.73" x2="38.90" y2="236.73" stroke="#2b2b2b" stroke-width="0.6"/>
<line x1="37.30" y1="217.71" x2="38.90" y2="217.71" stroke="#2b2b2b" stroke-width="0.6"/>
<text x="14.20" y="290.60" font-size="8.8" text-anchor="start" fill="#222" textLength="73.80" lengthAdjust="spacingAndGlyphs" transform="rotate(-90 14.20 290.60)" stroke="#222" stroke-width="0.1">IL-18r1+ (% CD8 T cells)</text>
<circle cx="47.00" cy="222.20" r="1.42" fill="#16457c"/>
<circle cx="48.90" cy="220.90" r="1.42" fill="#16457c"/>
<circle cx="51.50" cy="220.30" r="1.42" fill="#16457c"/>
<circle cx="53.40" cy="220.90" r="1.42" fill="#16457c"/>
<circle cx="56.60" cy="219.30" r="1.42" fill="#16457c"/>
<circle cx="57.20" cy="220.90" r="1.42" fill="#16457c"/>
<circle cx="49.60" cy="224.10" r="1.42" fill="#16457c"/>
<circle cx="54.00" cy="223.50" r="1.42" fill="#16457c"/>
<circle cx="52.10" cy="225.40" r="1.42" fill="#16457c"/>
<circle cx="52.10" cy="228.60" r="1.42" fill="#16457c"/>
<circle cx="52.10" cy="234.60" r="1.42" fill="#16457c"/>
<circle cx="51.70" cy="243.20" r="1.42" fill="#16457c"/>
<circle cx="51.70" cy="250.20" r="1.42" fill="#16457c"/>
<line x1="45.10" y1="227.50" x2="58.90" y2="227.50" stroke="#2b2b2b" stroke-width="1.0"/>
<circle cx="66.10" cy="212.00" r="1.42" fill="#33164a"/>
<circle cx="68.70" cy="214.20" r="1.42" fill="#33164a"/>
<circle cx="71.80" cy="214.60" r="1.42" fill="#33164a"/>
<circle cx="74.40" cy="215.20" r="1.42" fill="#33164a"/>
<circle cx="76.90" cy="213.30" r="1.42" fill="#33164a"/>
<circle cx="75.70" cy="214.60" r="1.42" fill="#33164a"/>
<circle cx="71.20" cy="223.50" r="1.42" fill="#33164a"/>
<circle cx="71.20" cy="232.40" r="1.42" fill="#33164a"/>
<line x1="64.80" y1="218.50" x2="78.00" y2="218.50" stroke="#2b2b2b" stroke-width="1.0"/>
<circle cx="89.60" cy="286.10" r="1.42" fill="#42a843"/>
<circle cx="93.40" cy="286.80" r="1.42" fill="#42a843"/>
<circle cx="87.00" cy="289.30" r="1.42" fill="#42a843"/>
<circle cx="90.80" cy="289.90" r="1.42" fill="#42a843"/>
<circle cx="94.60" cy="288.70" r="1.42" fill="#42a843"/>
<circle cx="85.10" cy="292.50" r="1.42" fill="#42a843"/>
<circle cx="88.90" cy="291.80" r="1.42" fill="#42a843"/>
<circle cx="92.70" cy="291.80" r="1.42" fill="#42a843"/>
<circle cx="95.90" cy="291.20" r="1.42" fill="#42a843"/>
<circle cx="86.40" cy="295.00" r="1.42" fill="#42a843"/>
<circle cx="90.80" cy="294.40" r="1.42" fill="#42a843"/>
<circle cx="94.00" cy="295.00" r="1.42" fill="#42a843"/>
<circle cx="92.10" cy="296.90" r="1.42" fill="#42a843"/>
<line x1="84.55" y1="292.50" x2="97.05" y2="292.50" stroke="#2b2b2b" stroke-width="1.0"/>
<circle cx="109.90" cy="263.20" r="1.42" fill="#093a26"/>
<circle cx="112.50" cy="262.50" r="1.42" fill="#093a26"/>
<circle cx="110.60" cy="270.80" r="1.42" fill="#093a26"/>
<circle cx="108.70" cy="272.10" r="1.42" fill="#093a26"/>
<circle cx="104.80" cy="276.60" r="1.42" fill="#093a26"/>
<circle cx="107.40" cy="278.50" r="1.42" fill="#093a26"/>
<circle cx="111.80" cy="277.80" r="1.42" fill="#093a26"/>
<circle cx="114.40" cy="279.10" r="1.42" fill="#093a26"/>
<circle cx="104.80" cy="282.30" r="1.42" fill="#093a26"/>
<circle cx="109.30" cy="281.70" r="1.42" fill="#093a26"/>
<circle cx="113.10" cy="283.60" r="1.42" fill="#093a26"/>
<circle cx="115.00" cy="282.90" r="1.42" fill="#093a26"/>
<circle cx="106.10" cy="286.10" r="1.42" fill="#093a26"/>
<circle cx="109.90" cy="286.80" r="1.42" fill="#093a26"/>
<circle cx="113.80" cy="285.50" r="1.42" fill="#093a26"/>
<circle cx="107.40" cy="290.60" r="1.42" fill="#093a26"/>
<circle cx="111.20" cy="289.30" r="1.42" fill="#093a26"/>
<line x1="103.75" y1="283.50" x2="116.25" y2="283.50" stroke="#2b2b2b" stroke-width="1.0"/>
<path d="M90.70,283.80 V208.80 H110.60 V259.00" fill="none" stroke="#2b2b2b" stroke-width="0.9"/>
<text x="83.50" y="206.80" font-size="8.2" text-anchor="start" fill="#222" textLength="31.90" lengthAdjust="spacingAndGlyphs" stroke="#222" stroke-width="0.12"><tspan font-style="italic">P</tspan> = .0001</text>
<line x1="163.80" y1="206.10" x2="163.80" y2="303.90" stroke="#2b2b2b" stroke-width="1.3"/>
<line x1="163.20" y1="303.30" x2="248.10" y2="303.30" stroke="#2b2b2b" stroke-width="1.3"/>
<line x1="161.00" y1="303.30" x2="163.80" y2="303.30" stroke="#2b2b2b" stroke-width="0.8"/>
<text x="157.90" y="306.05" font-size="8.0" text-anchor="end" fill="#333" >0</text>
<line x1="161.00" y1="284.28" x2="163.80" y2="284.28" stroke="#2b2b2b" stroke-width="0.8"/>
<text x="157.90" y="287.03" font-size="8.0" text-anchor="end" fill="#333" >20</text>
<line x1="161.00" y1="265.26" x2="163.80" y2="265.26" stroke="#2b2b2b" stroke-width="0.8"/>
<text x="157.90" y="268.01" font-size="8.0" text-anchor="end" fill="#333" >40</text>
<line x1="161.00" y1="246.24" x2="163.80" y2="246.24" stroke="#2b2b2b" stroke-width="0.8"/>
<text x="157.90" y="248.99" font-size="8.0" text-anchor="end" fill="#333" >60</text>
<line x1="161.00" y1="227.22" x2="163.80" y2="227.22" stroke="#2b2b2b" stroke-width="0.8"/>
<text x="157.90" y="229.97" font-size="8.0" text-anchor="end" fill="#333" >80</text>
<line x1="161.00" y1="208.20" x2="163.80" y2="208.20" stroke="#2b2b2b" stroke-width="0.8"/>
<text x="157.90" y="210.95" font-size="8.0" text-anchor="end" fill="#333" >100</text>
<line x1="162.20" y1="293.79" x2="163.80" y2="293.79" stroke="#2b2b2b" stroke-width="0.6"/>
<line x1="162.20" y1="274.77" x2="163.80" y2="274.77" stroke="#2b2b2b" stroke-width="0.6"/>
<line x1="162.20" y1="255.75" x2="163.80" y2="255.75" stroke="#2b2b2b" stroke-width="0.6"/>
<line x1="162.20" y1="236.73" x2="163.80" y2="236.73" stroke="#2b2b2b" stroke-width="0.6"/>
<line x1="162.20" y1="217.71" x2="163.80" y2="217.71" stroke="#2b2b2b" stroke-width="0.6"/>
<text x="140.60" y="292.40" font-size="8.8" text-anchor="start" fill="#222" textLength="74.20" lengthAdjust="spacingAndGlyphs" transform="rotate(-90 140.60 292.40)" stroke="#222" stroke-width="0.1">IL-18r1+ (% CD4 T cells)</text>
<circle cx="175.80" cy="265.80" r="1.42" fill="#16457c"/>
<circle cx="171.00" cy="272.00" r="1.42" fill="#16457c"/>
<circle cx="171.00" cy="275.80" r="1.42" fill="#16457c"/>
<circle cx="173.60" cy="275.10" r="1.42" fill="#16457c"/>
<circle cx="178.60" cy="275.10" r="1.42" fill="#16457c"/>
<circle cx="180.80" cy="274.40" r="1.42" fill="#16457c"/>
<circle cx="180.80" cy="277.30" r="1.42" fill="#16457c"/>
<circle cx="175.80" cy="279.40" r="1.42" fill="#16457c"/>
<circle cx="175.80" cy="283.00" r="1.42" fill="#16457c"/>
<line x1="170.30" y1="275.50" x2="181.30" y2="275.50" stroke="#2b2b2b" stroke-width="1.0"/>
<circle cx="191.50" cy="259.30" r="1.42" fill="#33164a"/>
<circle cx="197.30" cy="259.80" r="1.42" fill="#33164a"/>
<circle cx="194.40" cy="267.20" r="1.42" fill="#33164a"/>
<circle cx="194.40" cy="280.10" r="1.42" fill="#33164a"/>
<circle cx="194.40" cy="289.40" r="1.42" fill="#33164a"/>
<line x1="187.90" y1="271.50" x2="200.10" y2="271.50" stroke="#2b2b2b" stroke-width="1.0"/>
<circle cx="212.60" cy="257.10" r="1.42" fill="#42a843"/>
<circle cx="212.60" cy="265.00" r="1.42" fill="#42a843"/>
<circle cx="207.90" cy="266.80" r="1.42" fill="#42a843"/>
<circle cx="207.90" cy="271.20" r="1.42" fill="#42a843"/>
<circle cx="217.20" cy="272.00" r="1.42" fill="#42a843"/>
<circle cx="212.60" cy="269.40" r="1.42" fill="#42a843"/>
<circle cx="212.60" cy="275.20" r="1.42" fill="#42a843"/>
<circle cx="212.60" cy="280.80" r="1.42" fill="#42a843"/>
<circle cx="216.50" cy="268.50" r="1.42" fill="#42a843"/>
<line x1="207.00" y1="269.50" x2="218.40" y2="269.50" stroke="#2b2b2b" stroke-width="1.0"/>
<circle cx="227.70" cy="243.70" r="1.42" fill="#093a26"/>
<circle cx="233.30" cy="244.90" r="1.42" fill="#093a26"/>
<circle cx="227.70" cy="252.80" r="1.42" fill="#093a26"/>
<circle cx="233.30" cy="252.80" r="1.42" fill="#093a26"/>
<circle cx="230.60" cy="257.10" r="1.42" fill="#093a26"/>
<circle cx="230.60" cy="262.40" r="1.42" fill="#093a26"/>
<circle cx="227.70" cy="266.40" r="1.42" fill="#093a26"/>
<circle cx="233.30" cy="265.90" r="1.42" fill="#093a26"/>
<circle cx="233.30" cy="272.00" r="1.42" fill="#093a26"/>
<circle cx="227.70" cy="274.70" r="1.42" fill="#093a26"/>
<line x1="224.90" y1="259.50" x2="237.10" y2="259.50" stroke="#2b2b2b" stroke-width="1.0"/>
<line x1="291.30" y1="216.30" x2="291.30" y2="303.90" stroke="#2b2b2b" stroke-width="1.3"/>
<line x1="290.70" y1="303.30" x2="388.10" y2="303.30" stroke="#2b2b2b" stroke-width="1.3"/>
<line x1="288.50" y1="303.30" x2="291.30" y2="303.30" stroke="#2b2b2b" stroke-width="0.8"/>
<text x="285.40" y="306.05" font-size="8.0" text-anchor="end" fill="#333" >0</text>
<line x1="288.50" y1="286.40" x2="291.30" y2="286.40" stroke="#2b2b2b" stroke-width="0.8"/>
<text x="285.40" y="289.15" font-size="8.0" text-anchor="end" fill="#333" >20</text>
<line x1="288.50" y1="269.50" x2="291.30" y2="269.50" stroke="#2b2b2b" stroke-width="0.8"/>
<text x="285.40" y="272.25" font-size="8.0" text-anchor="end" fill="#333" >40</text>
<line x1="288.50" y1="252.60" x2="291.30" y2="252.60" stroke="#2b2b2b" stroke-width="0.8"/>
<text x="285.40" y="255.35" font-size="8.0" text-anchor="end" fill="#333" >60</text>
<line x1="288.50" y1="235.70" x2="291.30" y2="235.70" stroke="#2b2b2b" stroke-width="0.8"/>
<text x="285.40" y="238.45" font-size="8.0" text-anchor="end" fill="#333" >80</text>
<line x1="288.50" y1="218.80" x2="291.30" y2="218.80" stroke="#2b2b2b" stroke-width="0.8"/>
<text x="285.40" y="221.55" font-size="8.0" text-anchor="end" fill="#333" >100</text>
<line x1="289.70" y1="294.85" x2="291.30" y2="294.85" stroke="#2b2b2b" stroke-width="0.6"/>
<line x1="289.70" y1="277.95" x2="291.30" y2="277.95" stroke="#2b2b2b" stroke-width="0.6"/>
<line x1="289.70" y1="261.05" x2="291.30" y2="261.05" stroke="#2b2b2b" stroke-width="0.6"/>
<line x1="289.70" y1="244.15" x2="291.30" y2="244.15" stroke="#2b2b2b" stroke-width="0.6"/>
<line x1="289.70" y1="227.25" x2="291.30" y2="227.25" stroke="#2b2b2b" stroke-width="0.6"/>
<text x="266.80" y="292.20" font-size="8.8" text-anchor="start" fill="#222" textLength="76.00" lengthAdjust="spacingAndGlyphs" transform="rotate(-90 266.80 292.20)" stroke="#222" stroke-width="0.1">PD-1+ (% CD8 T cells)</text>
<circle cx="307.90" cy="283.90" r="1.42" fill="#16457c"/>
<circle cx="299.90" cy="286.20" r="1.42" fill="#16457c"/>
<circle cx="301.70" cy="287.90" r="1.42" fill="#16457c"/>
<circle cx="299.90" cy="290.60" r="1.42" fill="#16457c"/>
<circle cx="302.10" cy="291.50" r="1.42" fill="#16457c"/>
<circle cx="304.40" cy="292.40" r="1.42" fill="#16457c"/>
<circle cx="306.60" cy="290.60" r="1.42" fill="#16457c"/>
<circle cx="309.30" cy="290.20" r="1.42" fill="#16457c"/>
<circle cx="311.50" cy="291.50" r="1.42" fill="#16457c"/>
<circle cx="303.00" cy="298.70" r="1.42" fill="#16457c"/>
<circle cx="305.70" cy="298.20" r="1.42" fill="#16457c"/>
<circle cx="308.40" cy="299.10" r="1.42" fill="#16457c"/>
<circle cx="305.30" cy="293.30" r="1.42" fill="#16457c"/>
<circle cx="300.80" cy="289.30" r="1.42" fill="#16457c"/>
<line x1="299.50" y1="291.50" x2="311.50" y2="291.50" stroke="#2b2b2b" stroke-width="1.0"/>
<circle cx="328.00" cy="241.10" r="1.42" fill="#33164a"/>
<circle cx="322.70" cy="254.90" r="1.42" fill="#33164a"/>
<circle cx="328.40" cy="257.20" r="1.42" fill="#33164a"/>
<circle cx="334.10" cy="256.20" r="1.42" fill="#33164a"/>
<circle cx="328.40" cy="261.90" r="1.42" fill="#33164a"/>
<circle cx="328.00" cy="288.40" r="1.42" fill="#33164a"/>
<circle cx="328.00" cy="295.50" r="1.42" fill="#33164a"/>
<line x1="320.80" y1="264.50" x2="336.00" y2="264.50" stroke="#2b2b2b" stroke-width="1.0"/>
<circle cx="350.20" cy="281.20" r="1.42" fill="#42a843"/>
<circle cx="348.10" cy="288.80" r="1.42" fill="#42a843"/>
<circle cx="354.30" cy="288.10" r="1.42" fill="#42a843"/>
<circle cx="344.60" cy="291.90" r="1.42" fill="#42a843"/>
<circle cx="349.70" cy="290.90" r="1.42" fill="#42a843"/>
<circle cx="352.70" cy="291.90" r="1.42" fill="#42a843"/>
<circle cx="356.30" cy="291.90" r="1.42" fill="#42a843"/>
<circle cx="347.10" cy="294.40" r="1.42" fill="#42a843"/>
<circle cx="351.20" cy="293.90" r="1.42" fill="#42a843"/>
<circle cx="354.30" cy="295.50" r="1.42" fill="#42a843"/>
<circle cx="348.70" cy="299.50" r="1.42" fill="#42a843"/>
<circle cx="352.20" cy="298.50" r="1.42" fill="#42a843"/>
<circle cx="346.00" cy="289.50" r="1.42" fill="#42a843"/>
<circle cx="355.50" cy="294.00" r="1.42" fill="#42a843"/>
<line x1="344.40" y1="291.50" x2="356.40" y2="291.50" stroke="#2b2b2b" stroke-width="1.0"/>
<circle cx="369.50" cy="274.60" r="1.42" fill="#093a26"/>
<circle cx="373.60" cy="274.10" r="1.42" fill="#093a26"/>
<circle cx="367.00" cy="280.20" r="1.42" fill="#093a26"/>
<circle cx="371.60" cy="280.70" r="1.42" fill="#093a26"/>
<circle cx="376.70" cy="279.70" r="1.42" fill="#093a26"/>
<circle cx="378.70" cy="280.20" r="1.42" fill="#093a26"/>
<circle cx="369.50" cy="285.30" r="1.42" fill="#093a26"/>
<circle cx="374.60" cy="284.30" r="1.42" fill="#093a26"/>
<circle cx="371.60" cy="286.30" r="1.42" fill="#093a26"/>
<circle cx="368.50" cy="289.30" r="1.42" fill="#093a26"/>
<circle cx="372.60" cy="288.80" r="1.42" fill="#093a26"/>
<circle cx="376.20" cy="287.80" r="1.42" fill="#093a26"/>
<circle cx="370.50" cy="291.40" r="1.42" fill="#093a26"/>
<circle cx="375.60" cy="291.40" r="1.42" fill="#093a26"/>
<circle cx="372.60" cy="295.00" r="1.42" fill="#093a26"/>
<line x1="365.45" y1="283.50" x2="380.15" y2="283.50" stroke="#2b2b2b" stroke-width="1.0"/>
<path d="M328.00,225.80 V223.30 H372.40 V247.00" fill="none" stroke="#2b2b2b" stroke-width="0.9"/>
<text x="333.90" y="221.20" font-size="8.2" text-anchor="start" fill="#222" textLength="32.40" lengthAdjust="spacingAndGlyphs" stroke="#222" stroke-width="0.12"><tspan font-style="italic">P</tspan> &lt; .0001</text>
<path d="M349.90,275.50 V261.10 H373.40 V267.40" fill="none" stroke="#2b2b2b" stroke-width="0.9"/>
<text x="344.80" y="259.30" font-size="8.2" text-anchor="start" fill="#222" textLength="33.90" lengthAdjust="spacingAndGlyphs" stroke="#222" stroke-width="0.12"><tspan font-style="italic">P</tspan> = .0188</text>
<line x1="423.80" y1="213.30" x2="423.80" y2="303.90" stroke="#2b2b2b" stroke-width="1.3"/>
<line x1="423.20" y1="303.30" x2="513.40" y2="303.30" stroke="#2b2b2b" stroke-width="1.3"/>
<line x1="421.00" y1="303.30" x2="423.80" y2="303.30" stroke="#2b2b2b" stroke-width="0.8"/>
<text x="417.90" y="306.05" font-size="8.0" text-anchor="end" fill="#333" >0</text>
<line x1="421.00" y1="285.74" x2="423.80" y2="285.74" stroke="#2b2b2b" stroke-width="0.8"/>
<text x="417.90" y="288.49" font-size="8.0" text-anchor="end" fill="#333" >20</text>
<line x1="421.00" y1="268.18" x2="423.80" y2="268.18" stroke="#2b2b2b" stroke-width="0.8"/>
<text x="417.90" y="270.93" font-size="8.0" text-anchor="end" fill="#333" >40</text>
<line x1="421.00" y1="250.62" x2="423.80" y2="250.62" stroke="#2b2b2b" stroke-width="0.8"/>
<text x="417.90" y="253.37" font-size="8.0" text-anchor="end" fill="#333" >60</text>
<line x1="421.00" y1="233.06" x2="423.80" y2="233.06" stroke="#2b2b2b" stroke-width="0.8"/>
<text x="417.90" y="235.81" font-size="8.0" text-anchor="end" fill="#333" >80</text>
<line x1="421.00" y1="215.50" x2="423.80" y2="215.50" stroke="#2b2b2b" stroke-width="0.8"/>
<text x="417.90" y="218.25" font-size="8.0" text-anchor="end" fill="#333" >100</text>
<line x1="422.20" y1="294.52" x2="423.80" y2="294.52" stroke="#2b2b2b" stroke-width="0.6"/>
<line x1="422.20" y1="276.96" x2="423.80" y2="276.96" stroke="#2b2b2b" stroke-width="0.6"/>
<line x1="422.20" y1="259.40" x2="423.80" y2="259.40" stroke="#2b2b2b" stroke-width="0.6"/>
<line x1="422.20" y1="241.84" x2="423.80" y2="241.84" stroke="#2b2b2b" stroke-width="0.6"/>
<line x1="422.20" y1="224.28" x2="423.80" y2="224.28" stroke="#2b2b2b" stroke-width="0.6"/>
<text x="399.40" y="290.60" font-size="8.8" text-anchor="start" fill="#222" textLength="72.80" lengthAdjust="spacingAndGlyphs" transform="rotate(-90 399.40 290.60)" stroke="#222" stroke-width="0.1">PD-1+ (% CD4 T cells)</text>
<circle cx="435.70" cy="257.80" r="1.42" fill="#16457c"/>
<circle cx="436.60" cy="264.10" r="1.42" fill="#16457c"/>
<circle cx="434.60" cy="265.40" r="1.42" fill="#16457c"/>
<circle cx="436.60" cy="269.80" r="1.42" fill="#16457c"/>
<circle cx="433.90" cy="273.90" r="1.42" fill="#16457c"/>
<circle cx="431.20" cy="276.70" r="1.42" fill="#16457c"/>
<circle cx="435.30" cy="277.30" r="1.42" fill="#16457c"/>
<circle cx="440.10" cy="277.30" r="1.42" fill="#16457c"/>
<circle cx="433.20" cy="279.40" r="1.42" fill="#16457c"/>
<circle cx="436.60" cy="280.10" r="1.42" fill="#16457c"/>
<circle cx="433.90" cy="282.80" r="1.42" fill="#16457c"/>
<circle cx="438.00" cy="284.90" r="1.42" fill="#16457c"/>
<circle cx="436.00" cy="285.60" r="1.42" fill="#16457c"/>
<circle cx="436.00" cy="290.40" r="1.42" fill="#16457c"/>
<line x1="430.55" y1="277.50" x2="441.45" y2="277.50" stroke="#2b2b2b" stroke-width="1.0"/>
<circle cx="448.90" cy="260.80" r="1.42" fill="#33164a"/>
<circle cx="453.30" cy="262.00" r="1.42" fill="#33164a"/>
<circle cx="458.10" cy="260.80" r="1.42" fill="#33164a"/>
<circle cx="453.30" cy="265.90" r="1.42" fill="#33164a"/>
<circle cx="453.30" cy="279.50" r="1.42" fill="#33164a"/>
<circle cx="453.30" cy="284.20" r="1.42" fill="#33164a"/>
<circle cx="453.30" cy="293.00" r="1.42" fill="#33164a"/>
<line x1="448.05" y1="272.50" x2="459.15" y2="272.50" stroke="#2b2b2b" stroke-width="1.0"/>
<circle cx="473.00" cy="251.60" r="1.42" fill="#42a843"/>
<circle cx="469.90" cy="254.60" r="1.42" fill="#42a843"/>
<circle cx="473.00" cy="256.60" r="1.42" fill="#42a843"/>
<circle cx="470.30" cy="261.20" r="1.42" fill="#42a843"/>
<circle cx="473.00" cy="260.30" r="1.42" fill="#42a843"/>
<circle cx="467.50" cy="268.60" r="1.42" fill="#42a843"/>
<circle cx="470.30" cy="270.30" r="1.42" fill="#42a843"/>
<circle cx="473.00" cy="267.20" r="1.42" fill="#42a843"/>
<circle cx="476.20" cy="269.90" r="1.42" fill="#42a843"/>
<circle cx="467.50" cy="272.40" r="1.42" fill="#42a843"/>
<circle cx="467.50" cy="277.90" r="1.42" fill="#42a843"/>
<circle cx="473.00" cy="280.30" r="1.42" fill="#42a843"/>
<circle cx="475.80" cy="279.50" r="1.42" fill="#42a843"/>
<circle cx="467.50" cy="282.30" r="1.42" fill="#42a843"/>
<line x1="465.55" y1="268.50" x2="477.45" y2="268.50" stroke="#2b2b2b" stroke-width="1.0"/>
<circle cx="487.40" cy="238.20" r="1.42" fill="#093a26"/>
<circle cx="491.50" cy="237.90" r="1.42" fill="#093a26"/>
<circle cx="493.40" cy="244.90" r="1.42" fill="#093a26"/>
<circle cx="489.50" cy="246.90" r="1.42" fill="#093a26"/>
<circle cx="493.40" cy="248.50" r="1.42" fill="#093a26"/>
<circle cx="485.50" cy="252.20" r="1.42" fill="#093a26"/>
<circle cx="489.50" cy="250.90" r="1.42" fill="#093a26"/>
<circle cx="493.80" cy="251.70" r="1.42" fill="#093a26"/>
<circle cx="485.50" cy="257.30" r="1.42" fill="#093a26"/>
<circle cx="489.50" cy="255.40" r="1.42" fill="#093a26"/>
<circle cx="493.40" cy="256.50" r="1.42" fill="#093a26"/>
<circle cx="493.80" cy="260.50" r="1.42" fill="#093a26"/>
<circle cx="489.50" cy="263.30" r="1.42" fill="#093a26"/>
<circle cx="485.50" cy="268.10" r="1.42" fill="#093a26"/>
<circle cx="489.50" cy="270.40" r="1.42" fill="#093a26"/>
<circle cx="493.80" cy="269.20" r="1.42" fill="#093a26"/>
<circle cx="489.50" cy="279.90" r="1.42" fill="#093a26"/>
<line x1="483.85" y1="255.50" x2="495.75" y2="255.50" stroke="#2b2b2b" stroke-width="1.0"/>
<path d="M453.80,255.30 V216.40 H489.60 V220.70" fill="none" stroke="#2b2b2b" stroke-width="0.9"/>
<text x="455.00" y="214.60" font-size="8.2" text-anchor="start" fill="#222" textLength="33.30" lengthAdjust="spacingAndGlyphs" stroke="#222" stroke-width="0.12"><tspan font-style="italic">P</tspan> = .0084</text>
<path d="M471.30,246.10 V229.50 H489.60 V233.80" fill="none" stroke="#2b2b2b" stroke-width="0.9"/>
<text x="462.00" y="227.30" font-size="8.2" text-anchor="start" fill="#222" textLength="32.40" lengthAdjust="spacingAndGlyphs" stroke="#222" stroke-width="0.12"><tspan font-style="italic">P</tspan> = .0193</text>
<rect x="0.5" y="0.5" width="519" height="313" fill="none" stroke="#555" stroke-width="1"/>
</svg></body></html>
